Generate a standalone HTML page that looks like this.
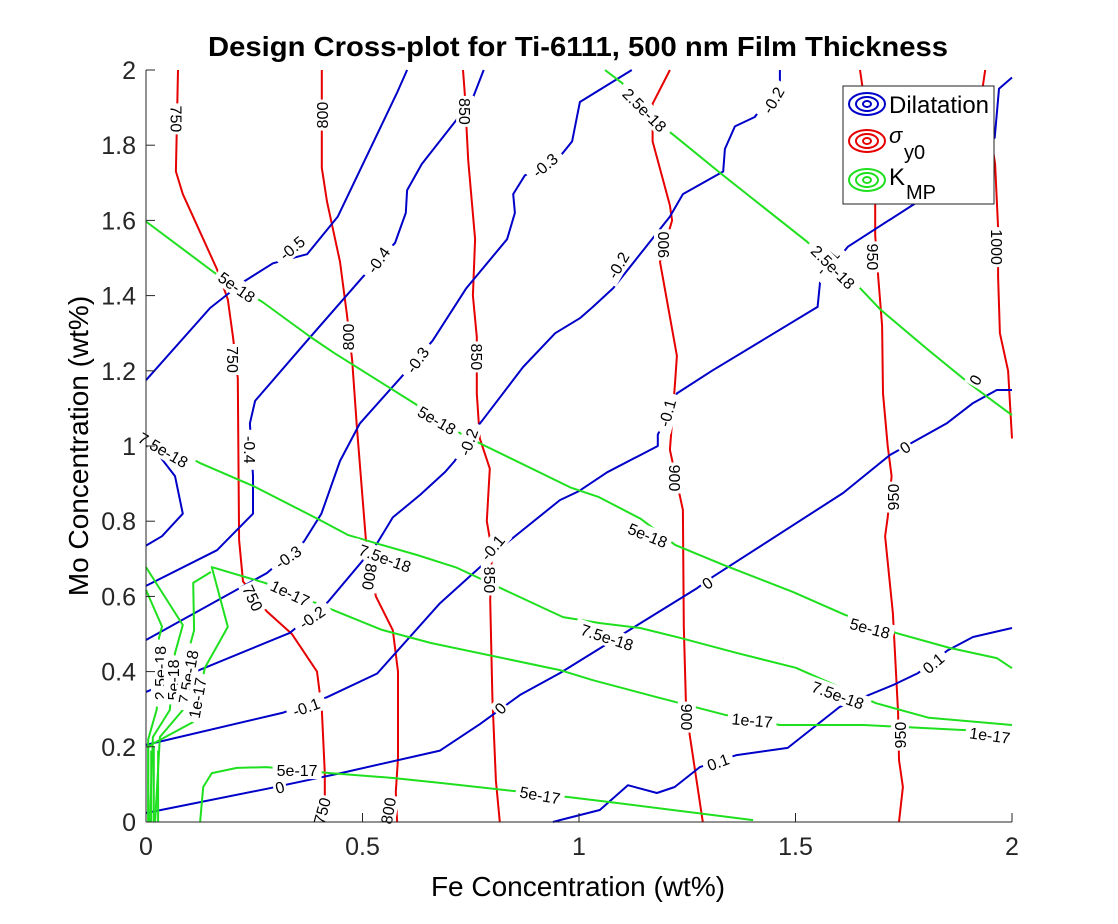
<!DOCTYPE html>
<html><head><meta charset="utf-8"><style>
html,body{margin:0;padding:0;background:#fff;}
svg{display:block;font-family:"Liberation Sans",Arial,sans-serif;}
</style></head><body>
<svg id="chart" width="1118" height="924" viewBox="0 0 1118 924" xmlns="http://www.w3.org/2000/svg">
<rect width="1118" height="924" fill="#fff"/>
<text x="578" y="56" text-anchor="middle" font-size="28" font-weight="bold" textLength="740" lengthAdjust="spacingAndGlyphs">Design Cross-plot for Ti-6111, 500 nm Film Thickness</text>
<g id="plot"></g>
<g id="axes"></g>
<text x="578" y="896" text-anchor="middle" font-size="28">Fe Concentration (wt%)</text>
<text transform="translate(88,446) rotate(-90)" text-anchor="middle" font-size="28">Mo Concentration (wt%)</text>
<g>
<rect x="843" y="86" width="151" height="118" fill="#fff" stroke="#222" stroke-width="1"/>
<g>
<ellipse cx="867" cy="104" rx="18" ry="11" fill="none" stroke="#0000c8" stroke-width="2"/>
<ellipse cx="867" cy="104" rx="11" ry="7" fill="none" stroke="#0000c8" stroke-width="2"/>
<ellipse cx="867" cy="104" rx="4" ry="3" fill="none" stroke="#0000c8" stroke-width="2"/>
<text x="889" y="113" font-size="24" textLength="100" lengthAdjust="spacingAndGlyphs">Dilatation</text></g>
<g>
<ellipse cx="867" cy="141" rx="18" ry="11" fill="none" stroke="#e60000" stroke-width="2"/>
<ellipse cx="867" cy="141" rx="11" ry="7" fill="none" stroke="#e60000" stroke-width="2"/>
<ellipse cx="867" cy="141" rx="4" ry="3" fill="none" stroke="#e60000" stroke-width="2"/>
<text x="889" y="143" font-size="22" font-style="italic">σ</text><text x="904" y="159" font-size="20">y0</text></g>
<g>
<ellipse cx="867" cy="180" rx="18" ry="11" fill="none" stroke="#1ee01e" stroke-width="2"/>
<ellipse cx="867" cy="180" rx="11" ry="7" fill="none" stroke="#1ee01e" stroke-width="2"/>
<ellipse cx="867" cy="180" rx="4" ry="3" fill="none" stroke="#1ee01e" stroke-width="2"/>
<text x="889" y="185" font-size="24">K</text><text x="906" y="199" font-size="20">MP</text></g>
</g>
</svg>
<script>
// axis tick values
const xTicks=[0,0.5,1,1.5,2];
const yTicks=[0,0.2,0.4,0.6,0.8,1,1.2,1.4,1.6,1.8,2];
const xTickLabels=["0","0.5","1","1.5","2"];
const yTickLabels=["0","0.2","0.4","0.6","0.8","1","1.2","1.4","1.6","1.8","2"];
// red contours (sigma_y0): [x,y] in wt%
const s750=[[0.074,2],[0.069,1.73],[0.085,1.67],[0.164,1.47],[0.189,1.39],[0.201,1.29],[0.212,1.18],[0.215,0.75],[0.224,0.64],[0.279,0.56],[0.337,0.50],[0.395,0.40],[0.406,0.30],[0.413,0.13],[0.413,0]];
const s800=[[0.406,2],[0.406,1.74],[0.418,1.65],[0.448,1.49],[0.464,1.35],[0.476,1.23],[0.487,1.05],[0.51,0.72],[0.531,0.60],[0.570,0.51],[0.582,0.40],[0.582,0.17],[0.577,0.08],[0.58,0]];
const s850=[[0.732,2],[0.736,1.94],[0.744,1.76],[0.760,1.55],[0.755,1.40],[0.764,1.29],[0.764,1.14],[0.771,1.02],[0.794,0.94],[0.787,0.80],[0.799,0.72],[0.795,0.59],[0.80,0.33],[0.808,0.11],[0.817,0]];
const s900=[[1.21,2],[1.17,1.91],[1.17,1.81],[1.21,1.64],[1.215,1.60],[1.187,1.49],[1.226,1.24],[1.222,1.17],[1.21,0.99],[1.24,0.83],[1.242,0.52],[1.247,0.31],[1.256,0.23],[1.286,0]];
const s950=[[1.649,2],[1.654,1.96],[1.684,1.65],[1.684,1.56],[1.691,1.45],[1.700,1.32],[1.702,1.14],[1.713,1.0],[1.722,0.92],[1.713,0.81],[1.707,0.76],[1.725,0.555],[1.737,0.29],[1.739,0.165],[1.748,0.093],[1.739,0]];
const s1000=[[1.938,2],[1.933,1.96],[1.961,1.75],[1.968,1.58],[1.968,1.45],[1.972,1.30],[1.991,1.20],[2.0,1.02]];
// blue contours (dilatation)
const dm5=[[0,1.175],[0.148,1.367],[0.224,1.436],[0.293,1.486],[0.372,1.51],[0.443,1.61],[0.58,1.94],[0.603,2]];
const dm5b=[[0,1.02],[0.067,0.92],[0.085,0.82],[0.037,0.76],[0,0.735]];
const dm4=[[0,0.628],[0.164,0.723],[0.247,0.82],[0.247,0.92],[0.24,1.06],[0.252,1.12],[0.372,1.28],[0.501,1.45],[0.575,1.54],[0.60,1.62],[0.603,1.68],[0.637,1.75],[0.753,1.92],[0.78,2]];
const dm3=[[0,0.484],[0.279,0.662],[0.365,0.746],[0.405,0.82],[0.448,0.96],[0.494,1.06],[0.587,1.18],[0.662,1.28],[0.74,1.42],[0.834,1.55],[0.852,1.62],[0.848,1.67],[0.875,1.72],[0.94,1.75],[0.963,1.78],[0.984,1.81],[1.002,1.915],[1.122,2]];
const dm2=[[0,0.346],[0.332,0.503],[0.420,0.585],[0.533,0.74],[0.57,0.81],[0.633,0.87],[0.690,0.93],[0.713,0.96],[0.743,1.02],[0.778,1.07],[0.871,1.21],[0.945,1.30],[1.002,1.34],[1.032,1.37],[1.079,1.42],[1.21,1.61],[1.24,1.67],[1.333,1.73],[1.337,1.79],[1.36,1.85],[1.406,1.875],[1.464,1.97],[1.464,2]];
const dm1=[[0,0.205],[0.317,0.291],[0.418,0.332],[0.534,0.395],[0.679,0.582],[0.836,0.745],[0.956,0.856],[1.0,0.88],[1.065,0.93],[1.182,1.0],[1.182,1.03],[1.226,1.14],[1.307,1.2],[1.551,1.37],[1.557,1.44],[1.621,1.53],[1.783,1.65],[1.96,1.82],[1.97,1.95],[2.0,1.98]];
const d0=[[0,0.024],[0.286,0.09],[0.45,0.13],[0.679,0.19],[0.771,0.26],[0.864,0.338],[0.956,0.396],[1.273,0.622],[1.309,0.652],[1.61,0.875],[1.718,0.976],[1.85,1.061],[1.91,1.114],[1.965,1.149],[2,1.149]];
const dp1=[[0.94,0],[0.956,0.005],[1.048,0.032],[1.113,0.098],[1.18,0.077],[1.221,0.093],[1.279,0.146],[1.364,0.178],[1.482,0.197],[1.602,0.306],[1.725,0.364],[1.783,0.396],[1.852,0.457],[1.91,0.492],[2,0.516]];
// green contours (K_MP)
const k25=[[1.06,2],[1.10,1.965],[1.15,1.89],[1.226,1.82],[1.326,1.726],[1.527,1.543],[1.586,1.476],[1.649,1.420],[1.695,1.364],[1.804,1.258],[1.903,1.165],[2,1.082]];
const k50=[[0,1.597],[0.159,1.46],[0.269,1.383],[0.38,1.29],[0.434,1.248],[0.619,1.114],[0.732,1.029],[0.98,0.89],[1.046,0.864],[1.143,0.806],[1.222,0.737],[1.333,0.684],[1.494,0.612],[1.614,0.551],[1.734,0.502],[1.856,0.463],[1.965,0.436],[2,0.409]];
const k75=[[0,1.03],[0.124,0.955],[0.247,0.894],[0.402,0.803],[0.467,0.763],[0.55,0.735],[0.626,0.71],[0.716,0.677],[0.963,0.545],[1.049,0.529],[1.141,0.516],[1.233,0.49],[1.363,0.45],[1.501,0.41],[1.686,0.316],[1.808,0.277],[2,0.258]];
const k100=[[0.005,0],[0.005,0.2],[0.011,0.205],[0.109,0.266],[0.136,0.41],[0.189,0.519],[0.152,0.678],[0.275,0.636],[0.393,0.582],[0.545,0.511],[0.658,0.476],[0.956,0.404],[1.032,0.377],[1.18,0.332],[1.337,0.285],[1.464,0.258],[1.658,0.258],[1.88,0.245],[1.995,0.24]];
const k25L=[[0,0.617],[0.037,0.52],[0.03,0.49],[0.025,0.30],[0.005,0.22],[0.005,0]];
const k50L=[[0,0.678],[0.085,0.524],[0.067,0.449],[0.055,0.298],[0.016,0.226],[0.009,0]];
const k75L=[[0.15,0.665],[0.109,0.636],[0.111,0.51],[0.097,0.45],[0.085,0.298],[0.032,0.226],[0.021,0]];
const k500=[[0.125,0],[0.132,0.093],[0.152,0.13],[0.21,0.144],[0.279,0.146],[0.425,0.13],[0.571,0.117],[0.679,0.104],[0.979,0.066],[1.072,0.053],[1.402,0.005]];
const kEdge1=[[0.012,0],[0.012,0.19]];
const kEdge2=[[0.018,0],[0.018,0.2]];
const kEdge3=[[0.028,0],[0.028,0.19]];
// label texts, positions [x,y] and angles
const labelTexts=["750","800","850","750","800","850","-0.4","750","800","850","750","800","900","900","900","950","950","950","1000",
"-0.5","-0.4","-0.3","-0.3","-0.2","-0.2","-0.2","-0.1","-0.1","-0.3","-0.2","-0.1","0","-0.1","0","0","0","0","0.1","0.1",
"2.5e-18","2.5e-18","5e-18","5e-18","5e-18","5e-18","7.5e-18","7.5e-18","7.5e-18","7.5e-18","1e-17","1e-17","1e-17","5e-17","5e-17","2.5e-18","5e-18","7.5e-18","1e-17"];
const labelPos=[[0.07,1.87],[0.406,1.88],[0.737,1.89],[0.201,1.23],[0.466,1.29],[0.764,1.237],[0.24,0.99],[0.247,0.596],[0.517,0.652],[0.794,0.644],[0.406,0.03],[0.559,0.03],[1.194,1.535],[1.222,0.915],[1.249,0.279],[1.679,1.503],[1.725,0.864],[1.741,0.231],[1.965,1.529],
[0.337,1.527],[0.536,1.495],[0.921,1.747],[0.626,1.229],[0.744,1.011],[1.448,1.92],[1.09,1.481],[1.203,1.088],[1.573,1.489],[0.328,0.705],[0.383,0.545],[0.37,0.306],[0.309,0.093],[0.80,0.73],[1.296,0.636],[0.818,0.303],[1.753,0.997],[1.915,1.176],[1.321,0.16],[1.818,0.423],
[1.152,1.894],[1.587,1.476],[0.21,1.423],[0.672,1.069],[1.159,0.763],[1.672,0.516],[0.04,0.99],[0.552,0.702],[1.065,0.492],[1.598,0.338],[0.333,0.609],[1.40,0.271],[1.949,0.231],[0.349,0.138],[0.91,0.072],[0.032,0.396],[0.062,0.378],[0.097,0.386],[0.118,0.33]];
const labelAng=[90,-90,90,90,-90,90,90,65,100,90,-75,-80,-90,90,90,90,-90,-90,90,
-40,-55,-40,-55,-70,-60,-60,-75,-50,-35,-35,-20,-15,-50,-35,-45,-35,-60,-20,-40,
45,45,35,30,22,15,30,20,18,20,25,5,8,0,10,-90,-90,-80,-80];

const X0=146,X1=1012,Y0=822,Y1=70;
function sx(v){return X0+(X1-X0)*v/2;}
function sy(v){return Y0-(Y0-Y1)*v/2;}
const NS="http://www.w3.org/2000/svg";
const plot=document.getElementById('plot');
const axes=document.getElementById('axes');
function drawLine(pts,color,name){
  const p=document.createElementNS(NS,'path');
  p.setAttribute('d',pts.map((q,i)=>(i?'L':'M')+sx(q[0]).toFixed(1)+','+sy(q[1]).toFixed(1)).join(''));
  p.setAttribute('fill','none');p.setAttribute('stroke',color);p.setAttribute('stroke-width','2');
  p.setAttribute('stroke-linejoin','round');
  
  
  plot.appendChild(p);
}
const RED="#e60000",BLUE="#0000c8",GREEN="#1ee01e";
drawLine(s750,RED,'sigma-750');drawLine(s800,RED,'sigma-800');drawLine(s850,RED,'sigma-850');
drawLine(s900,RED,'sigma-900');drawLine(s950,RED,'sigma-950');drawLine(s1000,RED,'sigma-1000');
drawLine(dm5,BLUE,'dilatation-m05');drawLine(dm5b,BLUE,'dilatation-m05-left');drawLine(dm4,BLUE,'dilatation-m04');
drawLine(dm3,BLUE,'dilatation-m03');drawLine(dm2,BLUE,'dilatation-m02');drawLine(dm1,BLUE,'dilatation-m01');
drawLine(d0,BLUE,'dilatation-0');drawLine(dp1,BLUE,'dilatation-01');
drawLine(k25,GREEN,'kmp-2p5e-18');drawLine(k50,GREEN,'kmp-5e-18');drawLine(k75,GREEN,'kmp-7p5e-18');
drawLine(k100,GREEN,'kmp-1e-17');drawLine(k25L,GREEN,'kmp-2p5e-18-left');drawLine(k50L,GREEN,'kmp-5e-18-left');
drawLine(k75L,GREEN,'kmp-7p5e-18-left');drawLine(k500,GREEN,'kmp-5e-17');
drawLine(kEdge1,GREEN,'kmp-edge-1');drawLine(kEdge2,GREEN,'kmp-edge-2');drawLine(kEdge3,GREEN,'kmp-edge-3');

// contour labels
labelTexts.forEach((t,i)=>{
  const g=document.createElementNS(NS,'g');
  g.setAttribute('transform','translate('+sx(labelPos[i][0]).toFixed(1)+','+sy(labelPos[i][1]).toFixed(1)+') rotate('+labelAng[i]+')');
  
  
  const w=t.length*9+4;
  const r=document.createElementNS(NS,'rect');
  r.setAttribute('x',-w/2);r.setAttribute('y',-9);r.setAttribute('width',w);r.setAttribute('height',18);r.setAttribute('fill','#fff');
  g.appendChild(r);
  const tx=document.createElementNS(NS,'text');
  tx.setAttribute('text-anchor','middle');tx.setAttribute('y','6');tx.setAttribute('font-size','16');
  tx.textContent=t;g.appendChild(tx);
  plot.appendChild(g);
});

// axes
function ln(x1,y1,x2,y2,name){
  const l=document.createElementNS(NS,'line');
  l.setAttribute('x1',x1);l.setAttribute('y1',y1);l.setAttribute('x2',x2);l.setAttribute('y2',y2);
  l.setAttribute('stroke','#262626');l.setAttribute('stroke-width','1');
  
  
  axes.appendChild(l);
}
ln(X0,Y1,X0,Y0,'y-axis-line');ln(X0,Y0,X1,Y0,'x-axis-line');
xTicks.forEach((v,i)=>{
  ln(sx(v),Y0,sx(v),Y0-9,'x-tick');
  const t=document.createElementNS(NS,'text');
  t.setAttribute('x',sx(v));t.setAttribute('y',Y0+33);t.setAttribute('text-anchor','middle');t.setAttribute('font-size','25');t.setAttribute('fill','#262626');
  t.textContent=xTickLabels[i];
  
  
  axes.appendChild(t);
});
yTicks.forEach((v,i)=>{
  ln(X0,sy(v),X0+9,sy(v),'y-tick');
  const t=document.createElementNS(NS,'text');
  t.setAttribute('x',X0-10);t.setAttribute('y',sy(v)+9);t.setAttribute('text-anchor','end');t.setAttribute('font-size','25');t.setAttribute('fill','#262626');
  t.textContent=yTickLabels[i];
  
  
  axes.appendChild(t);
});
</script>
</body></html>
